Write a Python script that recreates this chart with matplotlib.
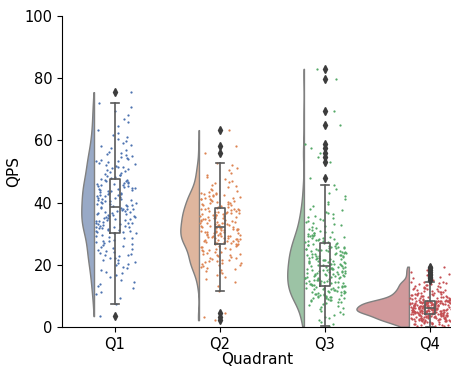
import numpy as np
import matplotlib
matplotlib.use("Agg")
import matplotlib.pyplot as plt
import seaborn as sns


QUADRANTS = ["Q1", "Q2", "Q3", "Q4"]

# QPS samples per quadrant (sorted, low to high)
Q1_QPS = [
    3.5, 7.4, 9.2, 10.5, 11.3, 12.4, 13.1, 13.9, 14.6, 15.2,
    16.0, 16.7, 17.3, 17.8, 18.2, 18.9, 19.3, 19.8, 20.2, 20.7,
    21.0, 21.4, 21.7, 22.1, 22.3, 22.7, 23.0, 23.3, 23.6, 23.9,
    24.2, 24.5, 24.8, 25.1, 25.4, 25.7, 26.0, 26.4, 26.6, 26.9,
    27.3, 27.5, 27.8, 28.1, 28.5, 28.7, 29.0, 29.4, 29.7, 30.1,
    30.3, 30.5, 30.7, 30.8, 31.0, 31.2, 31.3, 31.5, 31.7, 31.8,
    32.0, 32.2, 32.3, 32.5, 32.6, 32.8, 33.0, 33.2, 33.3, 33.5,
    33.6, 33.8, 34.0, 34.1, 34.3, 34.5, 34.6, 34.8, 35.0, 35.1,
    35.3, 35.5, 35.6, 35.8, 36.0, 36.1, 36.3, 36.4, 36.6, 36.8,
    36.9, 37.1, 37.3, 37.4, 37.6, 37.8, 37.9, 38.1, 38.2, 38.4,
    38.6, 38.8, 38.9, 39.1, 39.3, 39.5, 39.7, 39.8, 40.0, 40.2,
    40.4, 40.5, 40.7, 40.9, 41.1, 41.3, 41.4, 41.6, 41.8, 42.0,
    42.1, 42.3, 42.5, 42.7, 42.9, 43.0, 43.2, 43.4, 43.6, 43.8,
    43.9, 44.1, 44.3, 44.5, 44.6, 44.8, 45.0, 45.2, 45.4, 45.5,
    45.7, 45.9, 46.1, 46.3, 46.4, 46.6, 46.8, 47.0, 47.2, 47.4,
    47.6, 47.9, 48.2, 48.5, 48.8, 49.0, 49.3, 49.6, 49.9, 50.2,
    50.4, 50.7, 51.0, 51.3, 51.6, 51.9, 52.1, 52.4, 52.7, 53.0,
    53.3, 53.5, 53.8, 54.1, 54.4, 54.7, 55.0, 55.2, 55.5, 55.8,
    56.2, 56.8, 57.5, 58.1, 58.6, 59.3, 59.9, 60.4, 61.0, 61.7,
    62.4, 63.5, 64.7, 65.8, 67.0, 68.2, 69.5, 70.6, 72.1, 75.5,
]

Q2_QPS = [
    2.2, 3.1, 4.6, 11.7, 13.2, 14.5, 15.4, 16.1, 16.8, 17.3,
    17.7, 18.1, 18.4, 18.7, 19.0, 19.3, 19.5, 19.8, 20.0, 20.3,
    20.5, 20.7, 20.9, 21.1, 21.3, 21.5, 21.7, 21.9, 22.1, 22.3,
    22.5, 22.8, 23.0, 23.2, 23.4, 23.6, 23.8, 24.0, 24.2, 24.4,
    24.6, 24.8, 25.0, 25.2, 25.4, 25.6, 25.8, 26.0, 26.2, 26.5,
    26.6, 26.7, 26.8, 26.9, 27.0, 27.2, 27.3, 27.4, 27.5, 27.6,
    27.7, 27.8, 27.9, 28.0, 28.2, 28.3, 28.4, 28.5, 28.6, 28.7,
    28.8, 28.9, 29.1, 29.2, 29.3, 29.4, 29.5, 29.6, 29.7, 29.8,
    30.0, 30.1, 30.2, 30.3, 30.4, 30.5, 30.6, 30.7, 30.9, 31.0,
    31.1, 31.2, 31.3, 31.4, 31.5, 31.6, 31.7, 31.8, 31.9, 32.0,
    32.2, 32.3, 32.4, 32.5, 32.7, 32.8, 32.9, 33.0, 33.2, 33.3,
    33.4, 33.5, 33.6, 33.8, 33.9, 34.0, 34.1, 34.3, 34.4, 34.5,
    34.6, 34.8, 34.9, 35.0, 35.1, 35.3, 35.4, 35.5, 35.6, 35.8,
    35.9, 36.0, 36.1, 36.3, 36.4, 36.5, 36.6, 36.8, 36.9, 37.0,
    37.1, 37.3, 37.4, 37.5, 37.6, 37.8, 37.9, 38.0, 38.1, 38.2,
    38.4, 38.6, 38.7, 38.9, 39.1, 39.2, 39.4, 39.6, 39.8, 39.9,
    40.1, 40.3, 40.4, 40.6, 40.8, 41.0, 41.1, 41.3, 41.5, 41.6,
    41.8, 42.0, 42.2, 42.3, 42.5, 42.7, 42.8, 43.0, 43.2, 43.4,
    43.7, 44.1, 44.5, 44.9, 45.3, 45.7, 46.2, 46.6, 47.1, 47.6,
    48.2, 48.9, 49.6, 50.4, 51.2, 52.0, 52.8, 56.0, 58.2, 63.3,
]

Q3_QPS = [
    0.3, 0.9, 1.6, 2.2, 2.8, 3.3, 3.8, 4.3, 4.8, 5.3,
    5.7, 6.1, 6.4, 6.7, 7.0, 7.3, 7.6, 7.9, 8.1, 8.4,
    8.6, 8.7, 8.8, 8.9, 9.0, 9.2, 9.3, 9.4, 9.5, 9.6,
    9.7, 9.8, 9.9, 10.0, 10.2, 10.3, 10.4, 10.5, 10.6, 10.7,
    10.8, 10.9, 11.1, 11.2, 11.3, 11.4, 11.5, 11.6, 11.7, 11.9,
    12.0, 12.1, 12.2, 12.3, 12.4, 12.5, 12.6, 12.8, 12.9, 13.0,
    13.1, 13.2, 13.3, 13.4, 13.5, 13.6, 13.7, 13.8, 13.9, 14.0,
    14.1, 14.2, 14.3, 14.4, 14.5, 14.6, 14.7, 14.8, 14.9, 15.0,
    15.1, 15.2, 15.3, 15.4, 15.5, 15.6, 15.7, 15.8, 15.9, 16.0,
    16.1, 16.2, 16.3, 16.4, 16.5, 16.6, 16.7, 16.8, 16.9, 17.0,
    17.1, 17.2, 17.3, 17.4, 17.5, 17.6, 17.7, 17.8, 17.9, 18.0,
    18.1, 18.2, 18.3, 18.4, 18.5, 18.6, 18.7, 18.8, 18.9, 19.0,
    19.1, 19.2, 19.3, 19.4, 19.6, 19.7, 19.8, 19.9, 20.0, 20.1,
    20.2, 20.3, 20.4, 20.6, 20.7, 20.8, 20.9, 21.0, 21.1, 21.2,
    21.3, 21.4, 21.5, 21.7, 21.8, 21.9, 22.0, 22.1, 22.2, 22.3,
    22.4, 22.6, 22.7, 22.8, 22.9, 23.0, 23.1, 23.2, 23.4, 23.5,
    23.6, 23.7, 23.8, 23.9, 24.0, 24.2, 24.3, 24.4, 24.5, 24.6,
    24.7, 24.8, 25.0, 25.1, 25.2, 25.3, 25.4, 25.5, 25.6, 25.7,
    25.8, 26.0, 26.1, 26.3, 26.4, 26.6, 26.8, 26.9, 27.1, 27.2,
    27.4, 27.5, 27.7, 27.9, 28.0, 28.2, 28.3, 28.5, 28.6, 28.8,
    29.0, 29.1, 29.3, 29.4, 29.6, 29.7, 29.9, 30.1, 30.2, 30.4,
    30.7, 31.0, 31.3, 31.6, 31.9, 32.2, 32.5, 32.8, 33.1, 33.5,
    33.8, 34.1, 34.4, 34.8, 35.1, 35.5, 35.8, 36.2, 36.6, 37.0,
    37.5, 38.1, 38.8, 39.5, 40.3, 41.2, 42.1, 43.2, 44.4, 45.7,
    48.0, 53.2, 54.6, 55.8, 57.7, 58.7, 64.9, 69.6, 79.6, 83.0,
]

Q4_QPS = [
    0.10, 0.18, 0.31, 0.40, 0.52, 0.61, 0.70, 0.83, 0.91, 1.02,
    1.10, 1.19, 1.28, 1.40, 1.47, 1.55, 1.63, 1.72, 1.79, 1.86,
    1.93, 2.00,
    2.05, 2.09, 2.14, 2.18, 2.22, 2.27, 2.31, 2.35, 2.40, 2.44,
    2.48, 2.53, 2.57, 2.61, 2.65, 2.70, 2.74, 2.78, 2.83, 2.87,
    2.91, 2.96, 3.00, 3.04, 3.08, 3.13, 3.17, 3.21, 3.26, 3.30,
    3.34, 3.39, 3.43, 3.47, 3.51, 3.56, 3.60, 3.64, 3.69, 3.73,
    3.77, 3.82, 3.86, 3.90, 3.94, 3.99, 4.03, 4.07, 4.12, 4.16,
    4.20, 4.24, 4.28,
    4.32, 4.35, 4.37, 4.40, 4.43, 4.45, 4.48, 4.51, 4.53, 4.56,
    4.59, 4.61, 4.64, 4.67, 4.69, 4.72, 4.75, 4.77, 4.80, 4.83,
    4.85, 4.88, 4.91, 4.93, 4.96, 4.99, 5.01, 5.04, 5.07, 5.09,
    5.12, 5.15, 5.17, 5.20, 5.23, 5.25, 5.28, 5.31, 5.33, 5.36,
    5.39, 5.41, 5.44, 5.47, 5.49, 5.52, 5.55, 5.57, 5.60, 5.63,
    5.65, 5.68, 5.71, 5.73, 5.76, 5.79, 5.81, 5.84, 5.87, 5.89,
    5.92, 5.95, 5.97, 6.00, 6.03, 6.05, 6.08, 6.11, 6.13, 6.16,
    6.19, 6.21, 6.24, 6.26, 6.28,
    6.32, 6.35, 6.38, 6.41, 6.44, 6.47, 6.50, 6.53, 6.56, 6.59,
    6.62, 6.65, 6.68, 6.71, 6.74, 6.77, 6.81, 6.84, 6.87, 6.90,
    6.93, 6.96, 6.99, 7.02, 7.05, 7.08, 7.11, 7.14, 7.17, 7.20,
    7.23, 7.26, 7.29, 7.32, 7.35, 7.38, 7.41, 7.44, 7.47, 7.50,
    7.53, 7.56, 7.59, 7.62, 7.65, 7.68, 7.71, 7.74, 7.77, 7.80,
    7.83, 7.86, 7.89, 7.92, 7.95, 7.98, 8.01, 8.04, 8.07, 8.10,
    8.13, 8.16, 8.19, 8.22, 8.25, 8.28, 8.31, 8.34, 8.37, 8.40,
    8.44, 8.47, 8.51, 8.55, 8.58,
    8.65, 8.72, 8.78, 8.85, 8.91, 8.98, 9.04, 9.11, 9.18, 9.24,
    9.31, 9.38, 9.45, 9.52, 9.59, 9.67, 9.74, 9.82, 9.90, 9.98,
    10.06, 10.14, 10.23, 10.31, 10.40, 10.49, 10.58, 10.67, 10.77, 10.86,
    10.96, 11.06, 11.16, 11.27, 11.37, 11.48, 11.59, 11.71, 11.82, 11.94,
    12.06, 12.18, 12.31, 12.44, 12.57, 12.70, 12.84, 12.98, 13.12, 13.27,
    13.42, 13.57, 13.72, 13.88, 14.04, 14.20, 14.35, 14.45, 14.52, 14.60,
    15.2, 15.6, 16.1, 16.6, 17.2, 17.7, 18.3, 18.9, 19.4,
]

GROUPS = [Q1_QPS, Q2_QPS, Q3_QPS, Q4_QPS]


def kde_curve(values, bw=0.25, points=300):
    """Gaussian KDE cut at the data range (bw is a factor of the std)."""
    values = np.asarray(values, dtype=float)
    grid = np.linspace(values.min(), values.max(), points)
    h = bw * values.std(ddof=1)
    z = (grid[:, None] - values[None, :]) / h
    dens = np.exp(-0.5 * z ** 2).sum(axis=1) / (len(values) * h * np.sqrt(2 * np.pi))
    return grid, dens


def main():
    palette = sns.color_palette("deep", 4)

    fig = plt.figure(figsize=(4.51, 3.67), dpi=100)
    ax = fig.add_axes([62 / 451, 40 / 367, 391 / 451, 311 / 367])

    # half violins ("clouds"), area-scaled against the tallest density
    curves = [kde_curve(vals) for vals in GROUPS]
    peak = max(dens.max() for _, dens in curves)
    for i, (grid, dens) in enumerate(curves):
        width = 0.5 * dens / peak
        edge = i - 0.2
        face = sns.desaturate(palette[i], 0.75)
        ax.fill_betweenx(grid, edge - width, edge, facecolor=(*face, 0.62),
                         edgecolor="grey", linewidth=1, zorder=1)

    # rain
    rng = np.random.default_rng(11)
    for i, vals in enumerate(GROUPS):
        xs = i + rng.uniform(-0.19, 0.2, len(vals))
        pts = ax.scatter(xs, vals, s=2.6, color=palette[i], linewidths=0, zorder=2)
        pts.set_snap(False)

    # boxes
    line = dict(color="#5a5a5a", linewidth=1.2)
    ax.boxplot(GROUPS, positions=range(4), widths=0.1, capwidths=0.07,
               manage_ticks=False, boxprops=line, whiskerprops=line,
               capprops=line, medianprops=line,
               flierprops=dict(marker="d", markerfacecolor="#3c3c3c",
                               markeredgecolor="#3c3c3c", markersize=4),
               zorder=3)

    ax.set_xlim(-0.505, 3.22)
    ax.set_ylim(0, 100)
    ax.set_xticks(range(4))
    ax.set_xticklabels(QUADRANTS)
    ax.tick_params(labelsize=10.5)
    ax.set_xlabel("Quadrant", fontsize=11, labelpad=0)
    ax.set_ylabel("QPS", fontsize=11, labelpad=2)
    ax.spines["top"].set_visible(False)
    ax.spines["right"].set_visible(False)

    fig.savefig("out.png", dpi=100)


if __name__ == "__main__":
    main()
